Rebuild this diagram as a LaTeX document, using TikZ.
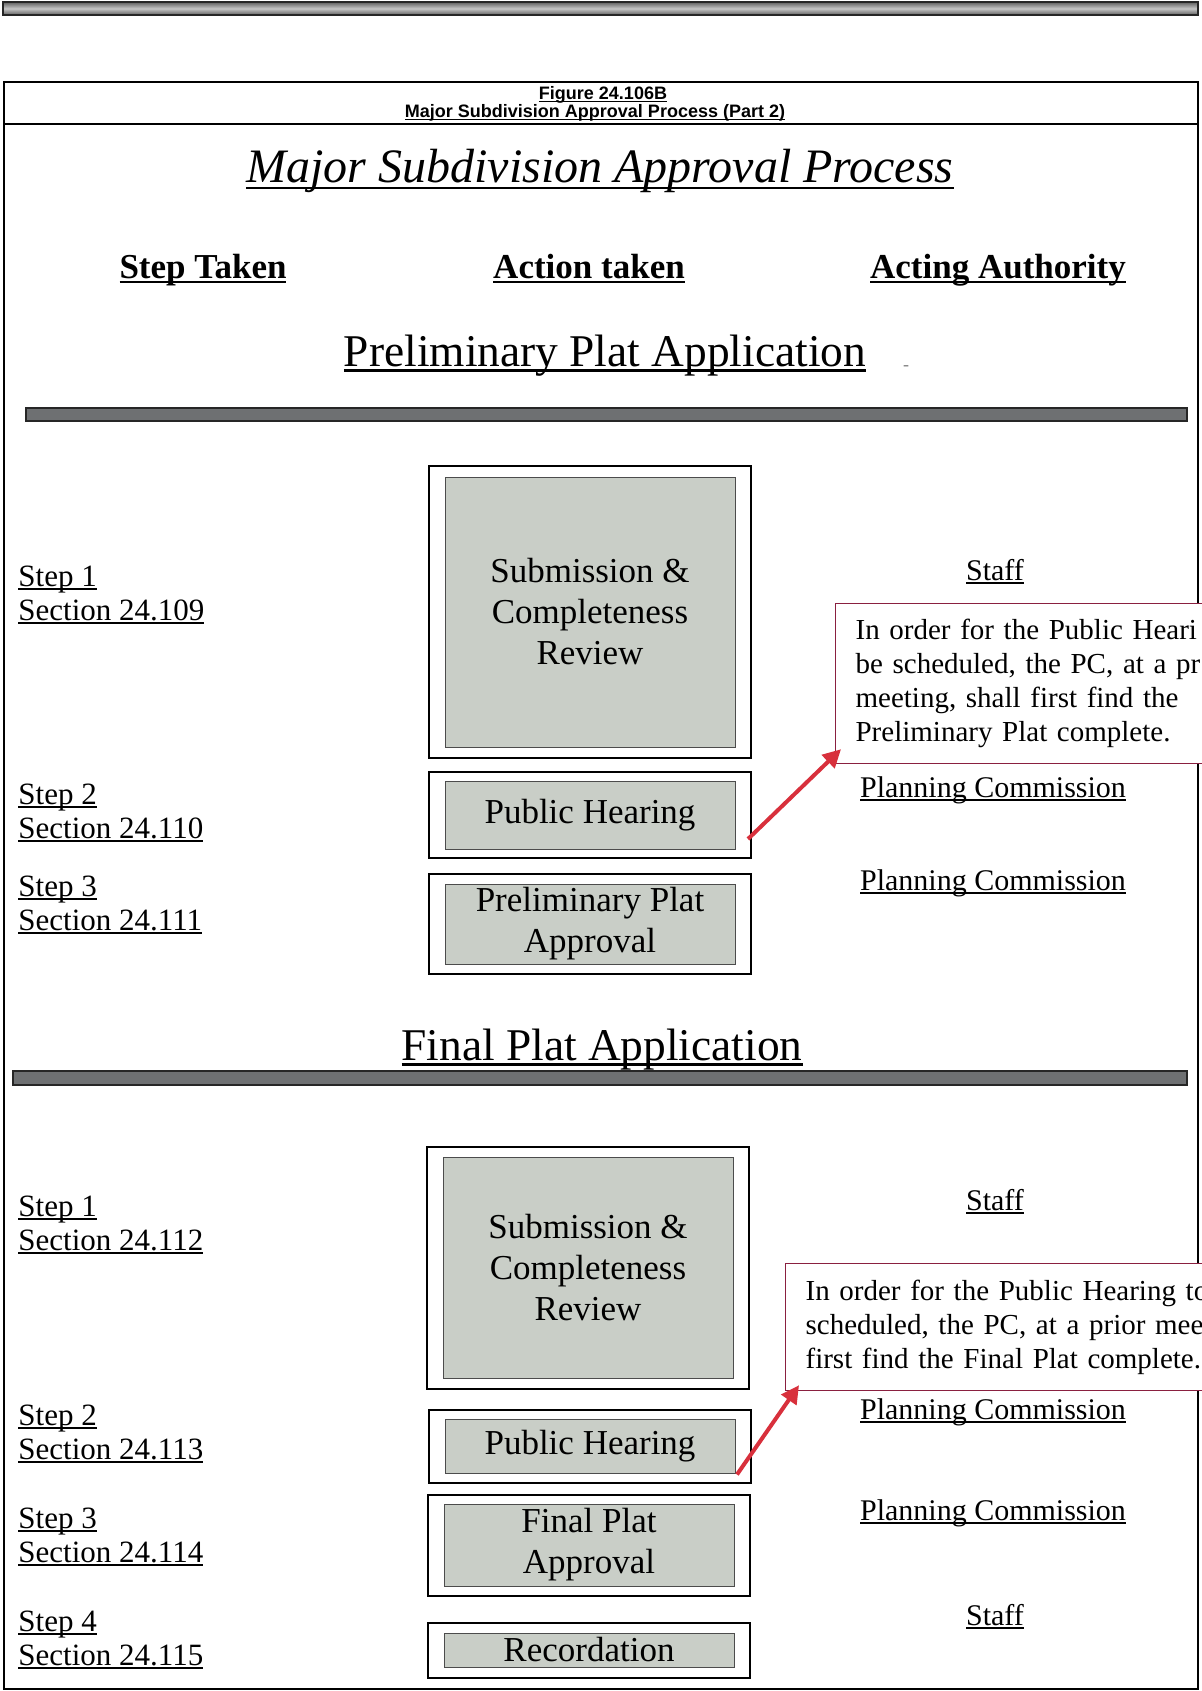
\documentclass[tikz,border=0pt]{standalone}
\usepackage{fontspec}
\setmainfont{Liberation Serif}
\newfontfamily\capsans{Liberation Sans}
\usetikzlibrary{positioning,arrows.meta}

\definecolor{barfill}{HTML}{6E7072}
\definecolor{panelfill}{HTML}{C9CEC7}
\definecolor{noteedge}{HTML}{8A2040}
\definecolor{arrowred}{HTML}{D8303C}

% underline at a fixed depth below the baseline
\newsavebox\ulbox
\newcommand{\undl}[1]{\sbox\ulbox{#1}\rlap{\rule[-0.13em]{\wd\ulbox}{0.055em}}\usebox\ulbox}

\tikzset{
  outerbox/.style={draw=black, line width=1pt, fill=white, minimum width=161pt, inner sep=0pt},
  innerbox/.style={draw=gray!60!black, line width=0.4pt, fill=panelfill, minimum width=145pt,
    inner sep=0pt, align=center, font=\fontsize{17.5}{20.5}\selectfont},
  steplbl/.style={anchor=base west, inner sep=0pt, font=\fontsize{15.5}{17}\selectfont},
  authlbl/.style={anchor=base, inner sep=0pt, font=\fontsize{15}{17}\selectfont},
  headlbl/.style={anchor=base, inner sep=0pt, font=\fontsize{17.5}{20}\selectfont\bfseries},
  sectlbl/.style={anchor=base, inner sep=0pt, font=\fontsize{22.7}{26}\selectfont},
  caplbl/.style={anchor=base, inner sep=0pt, font=\capsans\fontsize{9}{10}\selectfont\bfseries},
  notebox/.style={draw=noteedge, line width=0.6pt, fill=white, anchor=north west, align=left,
    inner xsep=10pt, text width=260pt, font=\fontsize{14.5}{17}\selectfont},
  notearrow/.style={draw=arrowred, line width=2pt, -{Triangle[length=9pt,width=9pt]}},
  bar/.style={draw=black!85, line width=0.6pt, fill=barfill},
}

\begin{document}
\begin{tikzpicture}[x=0.5pt,y=-0.5pt]
    \useasboundingbox (0,0) rectangle (1201,1691);
    % page rule and frame
    \draw[bar, top color=gray!75!black, bottom color=gray!75!black, middle color=gray!45] (3,2) rectangle (1198,15);
    \draw[line width=1.2pt] (4,82) rectangle (1198,1689);
    \draw[line width=0.8pt] (4,124) -- (1198,124);
    \node[caplbl] (fignum) at (603,100) {\undl{Figure 24.106B}};
    \node[caplbl] (figcap) at (595,118) {\undl{Major Subdivision Approval Process (Part 2)}};
    \node[anchor=base, inner sep=0pt, font=\fontsize{24}{28}\selectfont\itshape] (title) at (600,183)
        {\undl{Major Subdivision Approval Process}};
    % column heads
    \node[headlbl] (hstep) at (203,278) {\undl{Step Taken}};
    \node[headlbl] (haction) at (589,278) {\undl{Action taken}};
    \node[headlbl] (hauth) at (998,278) {\undl{Acting Authority}};
    % preliminary plat
    \node[sectlbl] (prelim) at (605,366) {\undl{Preliminary Plat Application}};
    \node[inner sep=0pt, font=\small, text=gray] (speck) at (906,368) {-};
    \draw[bar] (26,408) rectangle (1187,421);
    \node[outerbox, minimum height=146pt] (sub1) at (590,612) {};
    \node[innerbox, minimum height=135pt] (sub1in) at (sub1) {Submission \&\\Completeness\\Review};
    \node[outerbox, minimum height=43pt] (hear1) at (590,815) {};
    \node[innerbox, minimum height=34pt] (hear1in) at (hear1) {Public Hearing};
    \node[outerbox, minimum height=50pt] (appr1) at (590,924) {};
    \node[innerbox, minimum height=40pt] (appr1in) at (appr1) {Preliminary Plat\\Approval};
    % final plat
    \node[sectlbl] (final) at (602,1060) {\undl{Final Plat Application}};
    \draw[bar] (13,1071) rectangle (1187,1085);
    \node[outerbox, minimum height=121pt] (sub2) at (588,1268) {};
    \node[innerbox, minimum height=110.5pt] (sub2in) at (sub2) {Submission \&\\Completeness\\Review};
    \node[outerbox, minimum height=36.5pt] (hear2) at (590,1446) {};
    \node[innerbox, minimum height=27pt] (hear2in) at (hear2) {Public Hearing};
    \node[outerbox, minimum height=50.5pt] (appr2) at (589,1545) {};
    \node[innerbox, minimum height=41pt] (appr2in) at (appr2) {Final Plat\\Approval};
    \node[outerbox, minimum height=27.5pt] (rec) at (589,1650) {};
    \node[innerbox, minimum height=17pt] (recin) at (rec) {Recordation};
    % step labels
    \foreach \nm/\y/\st/\sec in {pa/586/1/24.109, pb/804/2/24.110, pc/896/3/24.111,
        fa/1216/1/24.112, fb/1425/2/24.113, fc/1528/3/24.114, fd/1631/4/24.115}
    {
    \node[steplbl] (\nm-step) at (18,\y) {\undl{Step \st}};
    \node[steplbl] (\nm-sec) at (18,\y+34) {\undl{Section \sec}};
    }
    % acting authority
    \node[authlbl] (pa-auth) at (995,580) {\undl{Staff}};
    \node[authlbl] (pb-auth) at (993,797) {\undl{Planning Commission}};
    \node[authlbl] (pc-auth) at (993,890) {\undl{Planning Commission}};
    \node[authlbl] (fa-auth) at (995,1210) {\undl{Staff}};
    \node[authlbl] (fb-auth) at (993,1419) {\undl{Planning Commission}};
    \node[authlbl] (fc-auth) at (993,1520) {\undl{Planning Commission}};
    \node[authlbl] (fd-auth) at (995,1625) {\undl{Staff}};
    % notes on the hearings
    \node[notebox, minimum height=80pt] (note1) at (835,603)
        {In order for the Public Heari\\be scheduled, the PC, at a pr\\meeting, shall first find the\\Preliminary Plat complete.};
    \node[notebox, minimum height=63.5pt] (note2) at (785,1263)
        {In order for the Public Hearing to\\scheduled, the PC, at a prior mee\\first find the Final Plat complete.};
    \coordinate (arr1s) at ([shift={(-4,-20)}]hear1.south east);
    \coordinate (arr1e) at ([shift={(6,-15)}]note1.south west);
    \coordinate (arr2s) at ([shift={(-15,-9)}]hear2.south east);
    \coordinate (arr2e) at ([shift={(14,-6)}]note2.south west);
    \draw[notearrow] (arr1s) -- (arr1e);
    \draw[notearrow] (arr2s) -- (arr2e);
\end{tikzpicture}
\end{document}
